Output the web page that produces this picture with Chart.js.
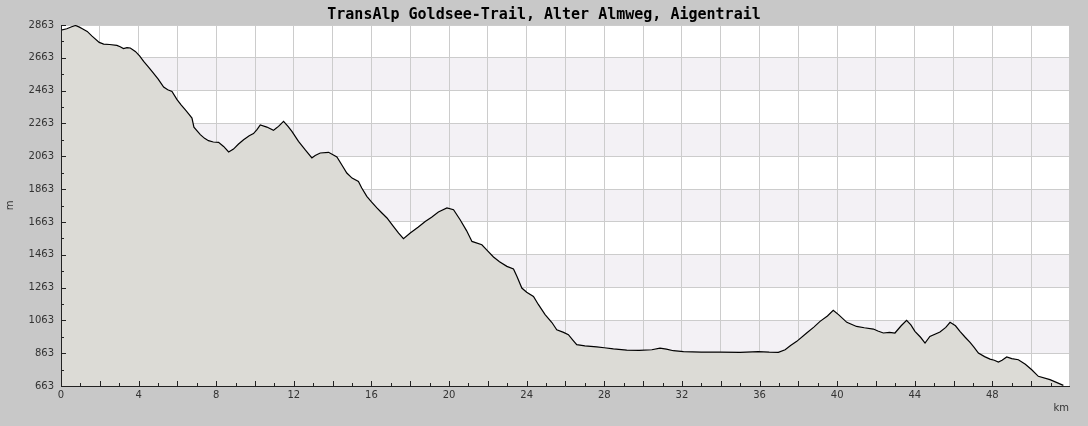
<!DOCTYPE html>
<html>
<head>
<meta charset="utf-8">
<script src="https://cdn.jsdelivr.net/npm/chart.js@4.4.1/dist/chart.umd.min.js"></script>
<style>
  html, body { margin: 0; padding: 0; background: #c8c8c8; }
  #wrap { width: 1088px; height: 426px; }
</style>
</head>
<body>
<div id="wrap"><canvas id="profile"></canvas></div>
<script>
// distance along track (km)
const kmData = [0, 0.3, 0.55, 0.75, 0.95, 1.1, 1.35, 1.6, 1.97, 2.2, 2.5, 2.88, 3.05, 3.22, 3.4, 3.57, 3.83, 4.05, 4.26, 4.5,
  4.69, 5.0, 5.29, 5.5, 5.72, 5.98, 6.2, 6.4, 6.6, 6.75, 6.85, 7.18, 7.4, 7.6, 7.85, 8.12, 8.38, 8.64, 8.89, 9.15,
  9.41, 9.7, 9.92, 10.1, 10.27, 10.61, 10.95, 11.1, 11.21, 11.47, 11.7, 11.9, 12.24, 12.6, 12.93, 13.1, 13.36, 13.79, 14.22, 14.5,
  14.73, 15.0, 15.33, 15.5, 15.76, 16.0, 16.28, 16.5, 16.8, 17.1, 17.4, 17.65, 18.0, 18.4, 18.77, 19.1, 19.45, 19.89, 20.23, 20.57,
  20.9, 21.18, 21.69, 22.0, 22.29, 22.6, 22.98, 23.32, 23.5, 23.75, 24.0, 24.35, 24.6, 24.95, 25.3, 25.55, 25.9, 26.15, 26.4, 26.58,
  27.0, 27.61, 28.0, 28.47, 29.16, 29.8, 30.45, 30.87, 31.2, 31.56, 32.08, 33.0, 34.0, 35.0, 35.94, 36.5, 36.97, 37.32, 37.6, 37.92,
  38.43, 38.8, 39.12, 39.5, 39.8, 40.1, 40.5, 41.0, 41.4, 41.87, 42.1, 42.38, 42.7, 42.98, 43.3, 43.58, 43.8, 44.01, 44.3, 44.53,
  44.78, 45.3, 45.6, 45.82, 46.1, 46.33, 46.6, 46.85, 47.05, 47.28, 47.6, 47.88, 48.1, 48.31, 48.5, 48.74, 49.0, 49.34, 49.7, 50.03,
  50.37, 50.97, 51.3, 51.66];

// elevation (m)
const elevData = [2832, 2840, 2852, 2860, 2850, 2840, 2824, 2795, 2757, 2747, 2744, 2739, 2730, 2719, 2725, 2723, 2702, 2675, 2641, 2608,
  2580, 2535, 2485, 2468, 2458, 2408, 2375, 2347, 2318, 2296, 2240, 2195, 2172, 2158, 2150, 2148, 2123, 2089, 2107, 2138,
  2164, 2188, 2201, 2225, 2254, 2241, 2221, 2235, 2245, 2276, 2245, 2215, 2154, 2100, 2053, 2068, 2083, 2087, 2059, 2005,
  1961, 1930, 1910, 1870, 1819, 1785, 1748, 1722, 1687, 1640, 1595, 1561, 1595, 1630, 1666, 1692, 1723, 1748, 1737, 1676,
  1610, 1544, 1524, 1485, 1449, 1420, 1392, 1376, 1330, 1260, 1235, 1209, 1160, 1098, 1050, 1006, 990, 976, 940, 915,
  908, 901, 896, 889, 882, 880, 884, 894, 888, 878, 872, 870, 870, 868, 872, 869, 868, 884, 910, 935,
  986, 1022, 1057, 1090, 1124, 1095, 1051, 1026, 1018, 1010, 998, 986, 990, 986, 1030, 1063, 1035, 996, 960, 925,
  965, 992, 1020, 1051, 1030, 996, 960, 929, 900, 864, 842, 827, 820, 809, 820, 840, 830, 823, 795, 762,
  722, 702, 685, 667];

const yTicks = [663, 863, 1063, 1263, 1463, 1663, 1863, 2063, 2263, 2463, 2663, 2863];
const xTicks = [0, 2, 4, 6, 8, 10, 12, 14, 16, 18, 20, 22, 24, 26, 28, 30, 32, 34, 36, 38, 40, 42, 44, 46, 48, 50];
const xLabelStep = 4;

const points = kmData.map((k, i) => ({ x: k, y: elevData[i] }));

// page + plot background, alternating bands
const backdrop = {
  id: 'backdrop',
  beforeDraw(chart) {
    const { ctx, chartArea: a, scales: { y } } = chart;
    ctx.save();
    ctx.fillStyle = '#c8c8c8';
    ctx.fillRect(0, 0, chart.width, chart.height);
    ctx.fillStyle = '#ffffff';
    ctx.fillRect(a.left, a.top, a.right - a.left, a.bottom - a.top);
    ctx.fillStyle = '#f3f1f5';
    for (let i = 1; i < yTicks.length - 1; i += 2) {
      const top = y.getPixelForValue(yTicks[i + 1]);
      const bot = y.getPixelForValue(yTicks[i]);
      ctx.fillRect(a.left, top, a.right - a.left, bot - top);
    }
    ctx.restore();
  }
};

// small tick marks pointing into the plot
const innerTicks = {
  id: 'innerTicks',
  afterDatasetsDraw(chart) {
    const { ctx, chartArea: a, scales: { x, y } } = chart;
    ctx.save();
    ctx.strokeStyle = '#222';
    ctx.lineWidth = 1;
    ctx.beginPath();
    for (let v = yTicks[0]; v <= yTicks[yTicks.length - 1]; v += 100) {
      const py = Math.round(y.getPixelForValue(v)) + 0.5;
      const len = (v - yTicks[0]) % 200 === 0 ? 5 : 3;
      ctx.moveTo(a.left, py);
      ctx.lineTo(a.left + len, py);
    }
    for (let k = 0; k <= 51; k++) {
      const px = Math.round(x.getPixelForValue(k)) + 0.5;
      const len = k % 2 === 0 ? 5 : 3;
      ctx.moveTo(px, a.bottom);
      ctx.lineTo(px, a.bottom - len);
    }
    ctx.stroke();
    ctx.restore();
  }
};

const ctx = document.getElementById('profile').getContext('2d');
const profileChart = new Chart(ctx, {
  type: 'line',
  data: {
    datasets: [{
      data: points,
      borderColor: '#000000',
      borderWidth: 1.2,
      backgroundColor: '#dcdbd6',
      fill: 'start',
      pointRadius: 0,
      tension: 0
    }]
  },
  options: {
    responsive: true,
    maintainAspectRatio: false,
    animation: false,
    devicePixelRatio: 1,
    layout: { padding: { left: 19, right: 19, top: 0, bottom: 12 } },
    plugins: {
      legend: { display: false },
      tooltip: { enabled: false },
      title: {
        display: true,
        text: 'TransAlp Goldsee-Trail, Alter Almweg, Aigentrail',
        color: '#000',
        font: { family: 'DejaVu Sans Mono', size: 15, weight: 'bold' },
        padding: { top: 6, bottom: 1 }
      }
    },
    scales: {
      x: {
        type: 'linear',
        min: 0,
        max: 51.95,
        afterBuildTicks: (scale) => { scale.ticks = xTicks.map(v => ({ value: v })); },
        afterFit: (scale) => { scale.height = 28; },
        grid: { color: '#cccccc', drawTicks: false },
        border: { color: '#222', width: 1, z: 1 },
        ticks: {
          padding: 3,
          color: '#333',
          font: { family: 'DejaVu Sans', size: 10 },
          maxRotation: 0,
          autoSkip: false,
          callback: (v) => (v % xLabelStep === 0 ? String(v) : '')
        },
        title: {
          display: true,
          text: 'km',
          align: 'end',
          color: '#333',
          font: { family: 'DejaVu Sans', size: 10 },
          padding: { top: 2, bottom: 0 }
        }
      },
      y: {
        type: 'linear',
        min: 663,
        max: 2863,
        afterBuildTicks: (scale) => { scale.ticks = yTicks.map(v => ({ value: v })); },
        afterFit: (scale) => { scale.width = 42; },
        grid: { color: '#cccccc', drawTicks: false },
        border: { color: '#222', width: 1, z: 1 },
        ticks: {
          padding: 7,
          color: '#333',
          font: { family: 'DejaVu Sans', size: 10 },
          callback: (v) => String(v)
        },
        title: {
          display: true,
          text: 'm',
          color: '#333',
          font: { family: 'DejaVu Sans', size: 10 },
          padding: { top: -15, bottom: 0 }
        }
      }
    }
  },
  plugins: [backdrop, innerTicks]
});
</script>
</body>
</html>
